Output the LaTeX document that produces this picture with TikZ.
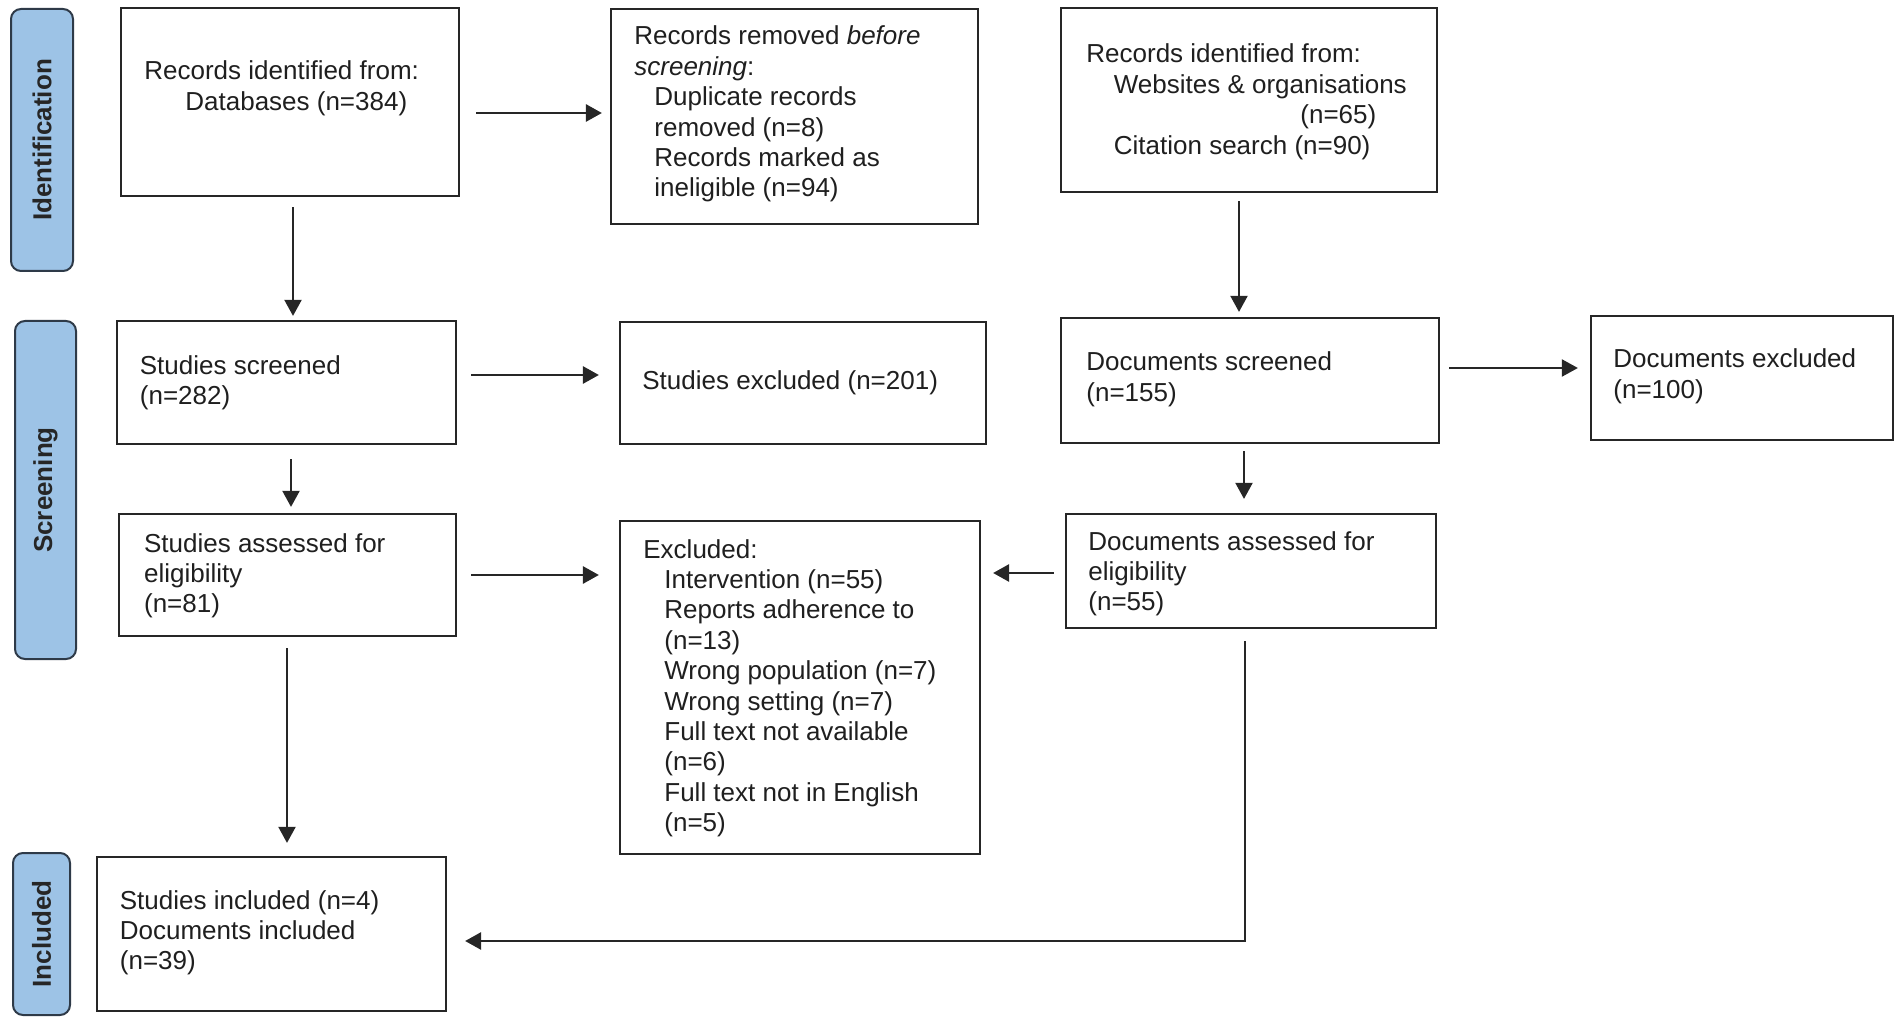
\documentclass[tikz,border=0pt]{standalone}
\usepackage{fontspec}
\setmainfont{Liberation Sans}
\usetikzlibrary{arrows.meta,calc}
\definecolor{stagefill}{HTML}{9DC3E6}
\definecolor{stageline}{HTML}{2E3A48}
\newcommand{\boxlines}[1]{\parbox[t]{230pt}{\raggedright #1}}
\begin{document}
\begin{tikzpicture}[x=0.5pt,y=-0.5pt,
  box/.style={draw=black!85, line width=1.1pt, fill=white, inner sep=0pt},
  stage/.style={draw=stageline, line width=1pt, fill=stagefill, rounded corners=5pt,
    inner sep=0pt, rotate=90, font=\fontsize{13pt}{15pt}\selectfont\bfseries, text=black!85},
  txt/.style={anchor=base west, inner sep=0pt, font=\fontsize{13pt}{15.2pt}\selectfont, text=black!88},
  varr/.style={draw=black!85, line width=1pt, -{Triangle[length=8pt,width=8.5pt]}},
  harr/.style={draw=black!85, line width=1.4pt, -{Triangle[length=8pt,width=8.5pt]}}]
\useasboundingbox (0,0) rectangle (1902,1027);

% stage labels
\node[stage, minimum width=131pt, minimum height=31pt] (s1) at (42,140) {Identification};
\node[stage, minimum width=169pt, minimum height=30.5pt] (s2) at (45.5,490) {Screening};
\node[stage, minimum width=81pt, minimum height=28.5pt] (s3) at (41.5,934) {Included};

% boxes
\node[box, minimum width=169pt, minimum height=94pt] (b1) at (290,102) {};
\node[box, minimum width=183.5pt, minimum height=107.5pt] (b2) at (794.5,116.5) {};
\node[box, minimum width=188pt, minimum height=92pt] (b3) at (1249,100) {};
\node[box, minimum width=169.5pt, minimum height=61.5pt] (b4) at (286.5,382.5) {};
\node[box, minimum width=183pt, minimum height=61pt] (b5) at (803,383) {};
\node[box, minimum width=189pt, minimum height=62.5pt] (b6) at (1250,380.5) {};
\node[box, minimum width=151pt, minimum height=62pt] (b7) at (1742,378) {};
\node[box, minimum width=168.5pt, minimum height=61pt] (b8) at (287.5,575) {};
\node[box, minimum width=180pt, minimum height=166.5pt] (b9) at (800,687.5) {};
\node[box, minimum width=185pt, minimum height=57pt] (b10) at (1251,571) {};
\node[box, minimum width=174.5pt, minimum height=77pt] (b11) at (271.5,934) {};

% texts
\node[txt] (t1) at (144,80) {\boxlines{Records identified from:\\\hspace*{20.5pt}Databases (n=384)}};
\node[txt] (t2) at (634,45) {\boxlines{Records removed \textit{before}\\\textit{screening}:\\\hspace*{10pt}Duplicate records\\\hspace*{10pt}removed (n=8)\\\hspace*{10pt}Records marked as\\\hspace*{10pt}ineligible (n=94)}};
\node[txt] (t3) at (1086,63) {\boxlines{Records identified from:\\\hspace*{13.75pt}Websites \& organisations\\\hspace*{107pt}(n=65)\\\hspace*{13.75pt}Citation search (n=90)}};
\node[txt] (t4) at (139.5,374) {\boxlines{Studies screened\\(n=282)}};
\node[txt] (t5) at (642,390) {\boxlines{Studies excluded (n=201)}};
\node[txt] (t6) at (1086,371) {\boxlines{Documents screened\\(n=155)}};
\node[txt] (t7) at (1613,368) {\boxlines{Documents excluded\\(n=100)}};
\node[txt] (t8) at (143.7,552) {\boxlines{Studies assessed for\\eligibility\\(n=81)}};
\node[txt] (t9) at (643,558) {\boxlines{Excluded:\\\hspace*{10.5pt}Intervention (n=55)\\\hspace*{10.5pt}Reports adherence to\\\hspace*{10.5pt}(n=13)\\\hspace*{10.5pt}Wrong population (n=7)\\\hspace*{10.5pt}Wrong setting (n=7)\\\hspace*{10.5pt}Full text not available\\\hspace*{10.5pt}(n=6)\\\hspace*{10.5pt}Full text not in English\\\hspace*{10.5pt}(n=5)}};
\node[txt] (t10) at (1088,550) {\boxlines{Documents assessed for\\eligibility\\(n=55)}};
\node[txt] (t11) at (119.5,909) {\boxlines{Studies included (n=4)\\Documents included\\(n=39)}};

% connector start points
\coordinate (a1) at ($(b1.east)+(16,11)$);
\coordinate (a2) at ($(b1.south)+(3,10)$);
\coordinate (a3) at ($(b3.south)+(-10,8)$);
\coordinate (a4) at ($(b4.east)+(14,-7.5)$);
\coordinate (a5) at ($(b6.east)+(9,-12.5)$);
\coordinate (a6) at ($(b4.south)+(4.5,14)$);
\coordinate (a7) at ($(b6.south)+(-6,7)$);
\coordinate (a8) at ($(b8.east)+(14,0)$);
\coordinate (a9) at ($(b10.west)+(-11,2)$);
\coordinate (a10) at ($(b8.south)+(-0.5,11)$);
\coordinate (a11) at ($(b10.south)+(-6,12)$);
\coordinate (a11e) at ($(b11.east)+(0,7)$);

% connectors
\draw[harr, shorten >=4pt] (a1) -- (a1 -| b2.west);
\draw[varr, shorten >=2pt] (a2) -- (a2 |- b4.north);
\draw[varr, shorten >=2.5pt] (a3) -- (a3 |- b6.north);
\draw[harr, shorten >=10pt] (a4) -- (a4 -| b5.west);
\draw[varr, shorten >=6pt] (a5) -- (a5 -| b7.west);
\draw[varr, shorten >=3pt] (a6) -- (a6 |- b8.north);
\draw[varr, shorten >=7pt] (a7) -- (a7 |- b10.north);
\draw[harr, shorten >=10pt] (a8) -- (a8 -| b9.west);
\draw[harr, shorten >=6pt] (a9) -- (a9 -| b9.east);
\draw[varr, shorten >=6.5pt] (a10) -- (a10 |- b11.north);
\draw[harr, shorten >=9pt] (a11) |- (a11e);
\end{tikzpicture}
\end{document}
